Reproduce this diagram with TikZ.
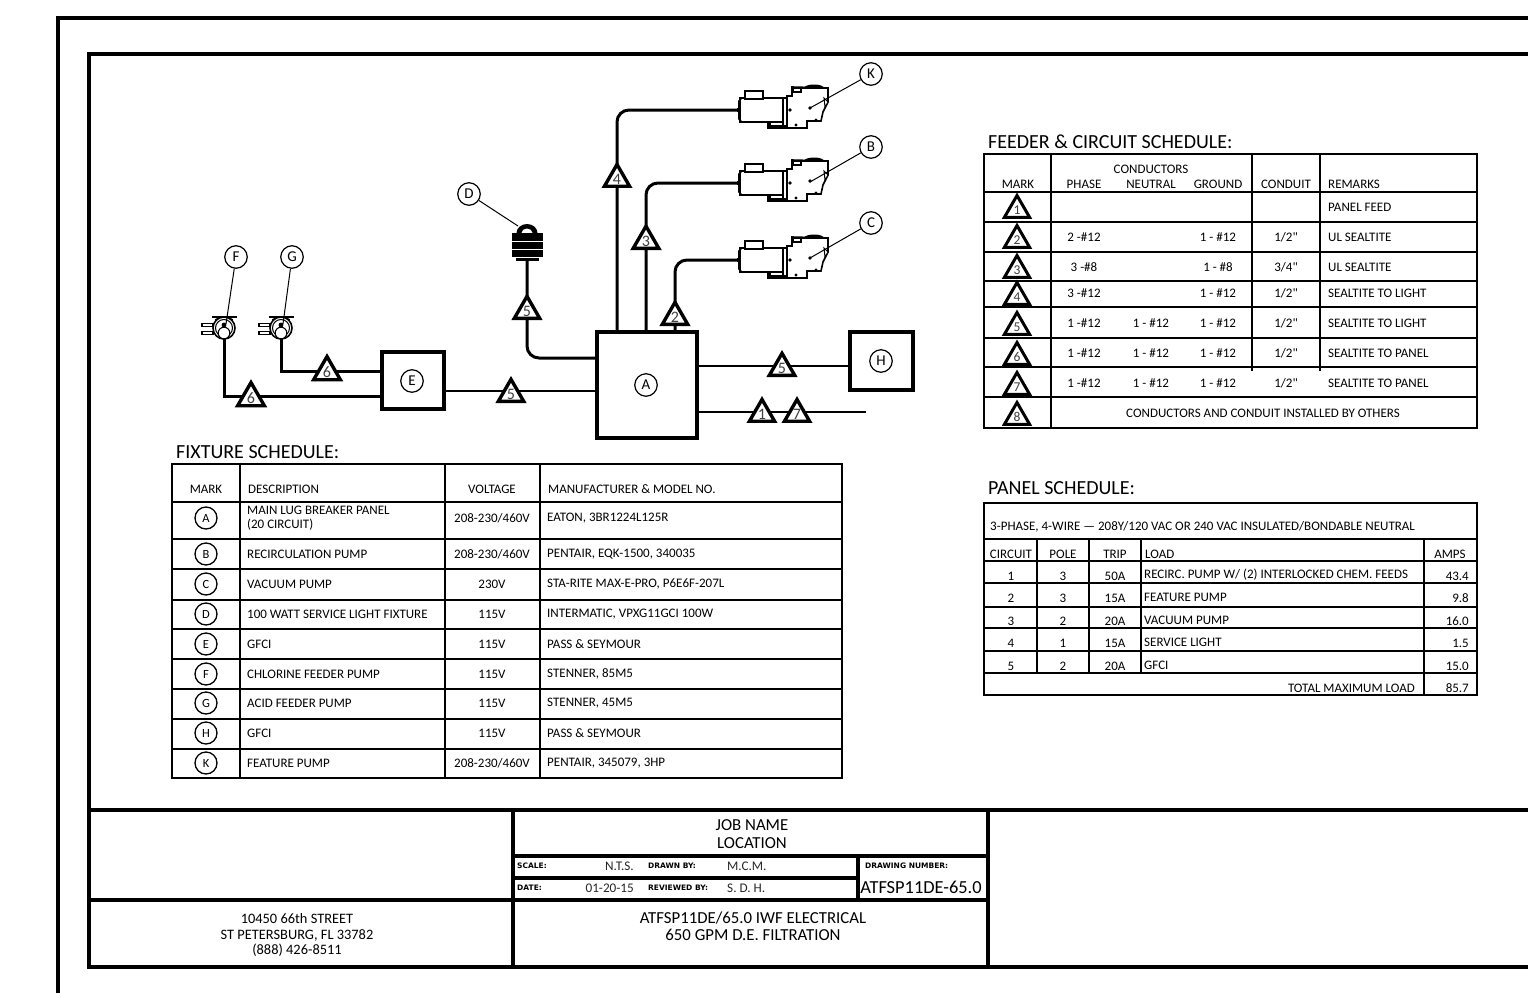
\documentclass[tikz,border=0pt]{standalone}
\usepackage{fontspec}
\setmainfont[Ligatures=TeXOff]{Carlito}
\newfontfamily\cadfont{DejaVu Sans}
\usetikzlibrary{calc,shapes,positioning}

\tikzset{
  wire/.style={line width=3pt,rounded corners=12pt},
  thinwire/.style={line width=1.8pt},
  leader/.style={line width=1pt},
  frameline/.style={line width=3.6pt},
  gridline/.style={line width=1.7pt},
  tag/.style={circle,draw,line width=1.2pt,fill=white,minimum size=22.5pt,inner sep=0pt,font=\fontsize{15}{15}\selectfont},
  celltag/.style={tag,line width=1.3pt,minimum size=22pt,font=\fontsize{12.5}{12.5}\selectfont},
  feed/.style={regular polygon,regular polygon sides=3,draw,line width=3.4pt,fill=white,minimum size=29pt,inner sep=0pt,font=\fontsize{16}{16}\selectfont,text=black!75},
  feedsmall/.style={feed,minimum size=29pt,line width=3pt,font=\fontsize{13.5}{13.5}\selectfont},
  unitbox/.style={draw,line width=3.6pt,fill=white,inner sep=0pt},
  cell/.style={inner sep=0pt,font=\fontsize{13}{14.5}\selectfont},
  cellleft/.style={cell,anchor=west,align=left},
  heading/.style={inner sep=0pt,anchor=west,font=\fontsize{20}{20}\selectfont},
  titletext/.style={inner sep=0pt,align=center,font=\fontsize{16.8}{17.5}\selectfont},
  smalltext/.style={inner sep=0pt,font=\fontsize{13.2}{13.2}\selectfont,text=black!85},
  cadtext/.style={inner sep=0pt,anchor=west,font=\cadfont\bfseries\fontsize{7.5}{8}\selectfont},
  pumpunit/.pic={
    \draw[line width=3.4pt] (17,0) -- (20,0);
    \draw[line width=1.4pt,fill=white] (20,-12) rectangle (63,12);
    \draw[line width=1.4pt,fill=white] (25,-19) rectangle (43,-11);
    \draw[line width=1.6pt] (21,-11) -- (19,-9) -- (19,9) -- (21,11);
    \draw[line width=1.4pt,fill=white] (63,-12) rectangle (67,18);
    \draw[line width=1.6pt,fill=white] (67,-14) -- (72,-14) -- (72,-23) -- (108,-22) -- (108,-8)
      -- (103,2) -- (101,11) -- (87,11) -- (87,18) -- (67,18) -- cycle;
    \draw[line width=2pt] (48,11.5) -- (48,18) -- (87,18);
    \draw[line width=1.2pt] (50,12) -- (50,16) -- (67,16);
    \draw[line width=1.2pt,fill=white] (73,-22) rectangle (81,-18);
    \draw[line width=2pt] (82,-22) -- (106,-22);
    \fill (84,-22) arc[start angle=180,end angle=360,x radius=10,y radius=3.5] -- cycle;
    \draw[line width=1pt,fill=white] (104,-12) -- (108,-8) -- (105,-3) -- cycle;
    \fill (90,-2) circle (1.8);
    \fill (76,15) circle (1.6);
    \fill (70,0) circle (1.8);
    \fill (96,10) circle (1.6);
  },
  chempump/.pic={
    \draw[line width=2pt] (-12,-11) -- (13,-11);
    \draw[line width=1pt] (-9,-9) -- (9,-9);
    \draw[line width=1.2pt] (-8,-10) -- (8,-8) (-8,-8) -- (8,-10);
    \foreach \py in {-3,5}
      \draw[line width=1.2pt,fill=white] (-22,\py-1.5) rectangle (-11,\py+1.5);
    \draw[line width=1.6pt,fill=white] (0,0) circle (11);
    \draw[line width=1pt] (0,0) circle (8.5);
    \draw[line width=1pt,fill=white] (0,5) circle (5.8);
    \fill (0,-3) circle (2.4);
  },
  lightunit/.pic={
    \fill (-10.5,-28) arc[start angle=180,end angle=360,x radius=10.5,y radius=9] -- cycle;
    \fill[white] (-5.5,-28) arc[start angle=180,end angle=360,x radius=5.5,y radius=4.5] -- cycle;
    \fill (-15,-28) rectangle (16,-4);
    \fill (-11,-4) rectangle (12,0);
    \foreach \py in {-20,-12}
      \draw[white,line width=1pt] (-15,\py) -- (16,\py);
    \draw[white,line width=0.8pt] (-11,-4) -- (12,-4);
  }
}

\begin{document}
\begin{tikzpicture}[x=1pt,y=-1pt]
\useasboundingbox (0,0) rectangle (1528,993);

% frames
\draw[line width=3.2pt] (58,993) -- (58,18) -- (1528,18);
\draw[frameline] (1528,54) -- (89,54) -- (89,967) -- (1528,967);
\draw[frameline] (89,810) -- (1528,810);
\draw[frameline] (513,810) -- (513,967);
\draw[frameline] (988,810) -- (988,967);
\draw[frameline] (89,900) -- (988,900);
\draw[frameline] (513,856) -- (988,856);
\draw[frameline] (513,878) -- (858,878);
\draw[frameline] (858,856) -- (858,900);

% title block
\node[titletext] (jobname) at (752,834) {JOB NAME\\LOCATION};
\node[cadtext] (scalekey) at (517,866) {SCALE:};
\node[cadtext] (datekey) at (517,888) {DATE:};
\node[cadtext] (drawnkey) at (648,866) {DRAWN BY:};
\node[cadtext] (reviewkey) at (648,888) {REVIEWED BY:};
\node[cadtext] (numberkey) at (865,866) {DRAWING NUMBER:};
\node[smalltext,anchor=east] (scaleval) at (634,866) {N.T.S.};
\node[smalltext,anchor=east] (dateval) at (634,888) {01-20-15};
\node[smalltext,anchor=west] (drawnval) at (727,866) {M.C.M.};
\node[smalltext,anchor=west] (reviewval) at (727,888) {S. D. H.};
\node[inner sep=0pt,font=\fontsize{18.4}{18.4}\selectfont] (numberval) at (921,887) {ATFSP11DE-65.0};
\node[titletext] (jobtitle) at (753,926) {ATFSP11DE/65.0 IWF ELECTRICAL\\650 GPM D.E. FILTRATION};
\node[inner sep=0pt,align=center,font=\fontsize{14.4}{15.8}\selectfont] (address) at (297,935) {10450 66th STREET\\ST PETERSBURG, FL 33782\\(888) 426-8511};

% equipment
\node[unitbox,minimum width=100pt,minimum height=106pt] (panel) at (647,385) {};
\node[unitbox,minimum width=63pt,minimum height=58pt] (boxh) at (881.5,361) {};
\node[unitbox,minimum width=62pt,minimum height=57pt] (boxe) at (413,380.5) {};

\foreach \name / \y in {k/110,b/183,c/260}
  \coordinate (pump\name) at (740,\y);
\coordinate (lightfoot) at (527,261);
\coordinate (fpump) at (224,328);
\coordinate (gpump) at (281,328);
\coordinate (feedend) at (866,412);

% wires
\draw[wire] (pumpk) -| (panel.north -| 617,0);
\draw[wire] (pumpb) -| (panel.north -| 646,0);
\draw[wire] (pumpc) -| (panel.north -| 675,0);
\draw[wire] (lightfoot) |- (panel.west |- 0,358);
\draw[wire,rounded corners=0pt] (fpump) |- (boxe.west |- 0,396);
\draw[wire,rounded corners=0pt] (gpump) |- (boxe.west |- 0,371);
\draw[thinwire] (boxe.east |- 0,391) -- (panel.west |- 0,391);
\draw[thinwire] (panel.east |- 0,366) -- (boxh.west |- 0,366);
\draw[thinwire] (panel.east |- 0,412) -- (feedend);

\foreach \name in {pumpk,pumpb,pumpc}
  \pic at ($(\name)+(-20,0)$) {pumpunit};
\pic at (lightfoot) {lightunit};
\pic at (fpump) {chempump};
\pic at (gpump) {chempump};

% feed marks
\foreach \name / \x / \y / \lab in {m4/617/179/4,m3/646/241/3,m2/675/317/2,m5a/527/311/5,m5b/782/368/5,m1/762/414/1,m7/797/414/7,m5c/511/394/5,m6a/327/372/6,m6b/251/398/6}
  \node[feed] (\name) at (\x,\y) {\lab};

% tags
\node[tag] (tagk) at (871,74) {K};
\node[tag] (tagb) at (871,147) {B};
\node[tag] (tagc) at (871,223) {C};
\node[tag] (tagd) at (469,194) {D};
\node[tag] (tagf) at (236,257) {F};
\node[tag] (tagg) at (292,257) {G};
\node[tag] (taga) at (646,385) {A};
\node[tag] (tagh) at (881,361) {H};
\node[tag] (tage) at (412,381) {E};

\draw[leader] (tagk) -- ($(pumpk)+(70,-2)$);
\draw[leader] (tagb) -- ($(pumpb)+(70,-1)$);
\draw[leader] (tagc) -- ($(pumpc)+(70,-2)$);
\draw[leader] (tagd) -- ($(lightfoot)+(-9,-35)$);
\draw[leader] (tagf) -- ($(fpump)+(2,-4)$);
\draw[leader] (tagg) -- ($(gpump)+(2,-4)$);

% fixture schedule
\node[heading] (fixturehead) at (176,452) {FIXTURE SCHEDULE:};
\draw[gridline] (172,464) rectangle (842,778);
\foreach \y in {502,539,569,600,629,659,689,719,749}
  \draw[gridline] (172,\y) -- (842,\y);
\foreach \x in {240,445,540}
  \draw[gridline] (\x,464) -- (\x,778);

\node[cell] (fxmark) at (206,489) {MARK};
\node[cellleft] (fxdesc) at (248,489) {DESCRIPTION};
\node[cell] (fxvolt) at (492,489) {VOLTAGE};
\node[cellleft] (fxmake) at (548,489) {MANUFACTURER \& MODEL NO.};

\def\fixtures{A/518/{MAIN LUG BREAKER PANEL\\(20 CIRCUIT)}/{208-230/460V}/{EATON, 3BR1224L125R},
  B/554/{RECIRCULATION PUMP}/{208-230/460V}/{PENTAIR, EQK-1500, 340035},
  C/584/{VACUUM PUMP}/{230V}/{STA-RITE MAX-E-PRO, P6E6F-207L},
  D/614/{100 WATT SERVICE LIGHT FIXTURE}/{115V}/{INTERMATIC, VPXG11GCI 100W},
  E/644/{GFCI}/{115V}/{PASS \& SEYMOUR},
  F/674/{CHLORINE FEEDER PUMP}/{115V}/{STENNER, 85M5},
  G/703/{ACID FEEDER PUMP}/{115V}/{STENNER, 45M5},
  H/733/{GFCI}/{115V}/{PASS \& SEYMOUR},
  K/763/{FEATURE PUMP}/{208-230/460V}/{PENTAIR, 345079, 3HP}}
\foreach \m / \y / \desc / \volt / \make in \fixtures {
  \node[celltag] (fx\m) at (206,\y) {\m};
  \node[cellleft] (fxdesc\m) at (247,\y) {\desc};
  \node[cell] (fxvolt\m) at (492,\y) {\volt};
  \node[cellleft] (fxmake\m) at (547,\y) {\make};
}

% feeder schedule
\node[heading] (feederhead) at (988,142) {FEEDER \& CIRCUIT SCHEDULE:};
\draw[gridline] (984,154) rectangle (1477,428);
\foreach \y in {192,222,252,281,307,338,367,397}
  \draw[gridline] (984,\y) -- (1477,\y);
\draw[gridline] (1051,154) -- (1051,428);
\foreach \x in {1252,1320}
  \draw[gridline] (\x,154) -- (\x,371);

\node[cell] (fdcond) at (1151,169) {CONDUCTORS};
\foreach \name / \x / \lab in {fdmark/1018/MARK,fdphase/1084/PHASE,fdneut/1151/NEUTRAL,fdgnd/1218/GROUND,fdcdt/1286/CONDUIT}
  \node[cell] (\name) at (\x,184) {\lab};
\node[cellleft] (fdrem) at (1328,184) {REMARKS};

\def\feeders{1/207///{}/{PANEL FEED},
  2/237/{2 -\#12}//{1 - \#12}/{UL SEALTITE},
  3/267/{3 -\#8}//{1 - \#8}/{UL SEALTITE},
  4/293/{3 -\#12}//{1 - \#12}/{SEALTITE TO LIGHT},
  5/323/{1 -\#12}/{1 - \#12}/{1 - \#12}/{SEALTITE TO LIGHT},
  6/353/{1 -\#12}/{1 - \#12}/{1 - \#12}/{SEALTITE TO PANEL},
  7/383/{1 -\#12}/{1 - \#12}/{1 - \#12}/{SEALTITE TO PANEL}}
\foreach \i / \y / \ph / \nt / \gd / \rem in \feeders {
  \node[cell] (fdph\i) at (1084,\y) {\ph};
  \node[cell] (fdnt\i) at (1151,\y) {\nt};
  \node[cell] (fdgd\i) at (1218,\y) {\gd};
  \node[cellleft] (fdrem\i) at (1328,\y) {\rem};
}
\foreach \i / \y / \c in {2/237/{1/2"},3/267/{3/4"},4/293/{1/2"},5/323/{1/2"},6/353/{1/2"},7/383/{1/2"}}
  \node[cell] (fdcd\i) at (1286,\y) {\c};
\foreach \i / \y in {1/210,2/240,3/270,4/297,5/327,6/357,7/387,8/417}
  \node[feedsmall] (fdtri\i) at (1017,\y) {\i};
\node[cell] (fdnote) at (1263,413) {CONDUCTORS AND CONDUIT INSTALLED BY OTHERS};

% panel schedule
\node[heading] (panelhead) at (988,488) {PANEL SCHEDULE:};
\draw[gridline] (984,503) rectangle (1477,695);
\foreach \y in {539,561,583,607,628,651,673}
  \draw[gridline] (984,\y) -- (1477,\y);
\foreach \x in {1037,1089,1141}
  \draw[gridline] (\x,539) -- (\x,673);
\draw[gridline] (1424,539) -- (1424,695);

\node[cellleft] (pnsystem) at (990,527) {3-PHASE, 4-WIRE — 208Y/120 VAC OR 240 VAC INSULATED/BONDABLE NEUTRAL};
\foreach \name / \x / \lab in {pncir/1011/CIRCUIT,pnpole/1063/POLE,pntrip/1115/TRIP,pnamps/1450/AMPS}
  \node[cell] (\name) at (\x,554) {\lab};
\node[cellleft] (pnload) at (1145,554) {LOAD};

\def\circuits{1/3/50A/{RECIRC. PUMP W/ (2) INTERLOCKED CHEM. FEEDS}/43.4/576,
  2/3/15A/{FEATURE PUMP}/9.8/598,
  3/2/20A/{VACUUM PUMP}/16.0/621,
  4/1/15A/{SERVICE LIGHT}/1.5/643,
  5/2/20A/{GFCI}/15.0/666}
\foreach \i / \pole / \trip / \load / \amps / \y in \circuits {
  \node[cell] (pnc\i) at (1011,\y) {\i};
  \node[cell] (pnp\i) at (1063,\y) {\pole};
  \node[cell] (pnt\i) at (1115,\y) {\trip};
  \node[cellleft] (pnl\i) at (1144,\y-1) {\load};
  \node[cell,anchor=east] (pna\i) at (1469,\y) {\amps};
}
\node[cell,anchor=east] (pntotal) at (1415,688) {TOTAL MAXIMUM LOAD};
\node[cell,anchor=east] (pnsum) at (1469,688) {85.7};

\end{tikzpicture}
\end{document}
